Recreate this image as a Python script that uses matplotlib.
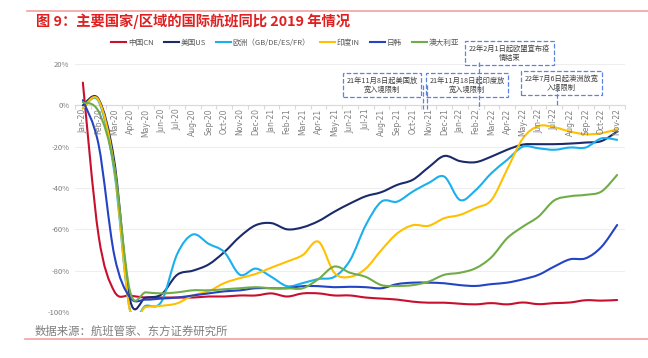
# international flights vs 2019, by country/region

import numpy as np
import matplotlib.pyplot as plt
from matplotlib.lines import Line2D
from matplotlib.path import Path
from matplotlib.patches import PathPatch

plt.rcParams['font.family'] = ['Noto Sans CJK SC', 'DejaVu Sans']

months = ['Jan-20', 'Feb-20', 'Mar-20', 'Apr-20', 'May-20', 'Jun-20', 'Jul-20', 'Aug-20',
          'Sep-20', 'Oct-20', 'Nov-20', 'Dec-20', 'Jan-21', 'Feb-21', 'Mar-21', 'Apr-21',
          'May-21', 'Jun-21', 'Jul-21', 'Aug-21', 'Sep-21', 'Oct-21', 'Nov-21', 'Dec-21',
          'Jan-22', 'Feb-22', 'Mar-22', 'Apr-22', 'May-22', 'Jun-22', 'Jul-22', 'Aug-22',
          'Sep-22', 'Oct-22', 'Nov-22']

# values in % vs 2019
china = [11, -63, -90, -92, -93, -93, -93, -93, -92.5, -92.5, -92, -92, -91, -92.5, -91, -91,
         -92, -92, -93, -93.5, -94, -95, -95.5, -95.5, -96, -96.3, -95.7, -96.3, -95.4, -96.2,
         -95.7, -95.4, -94.3, -94.5, -94.2]
us = [0, 3, -27, -94, -93, -91.5, -82, -80, -77, -71, -63.5, -58, -57, -60, -59, -56,
      -51.5, -47.5, -44, -42, -38.5, -36, -30, -24.5, -27, -27.5, -24.8, -21.5, -19, -18.8,
      -18.8, -18.5, -18, -17.3, -12.7]
europe = [-1.5, 2, -32, -99, -97, -95, -72, -62.5, -67, -71, -82, -79, -83, -87.5, -86, -84,
          -83, -75, -58, -46.6, -46.6, -41.7, -37.6, -34.5, -45.8, -41, -32.8, -26.4, -20,
          -20.8, -21.5, -20.4, -20.4, -16, -16.7]
india = [-1.3, 2.5, -30, -99.5, -97.6, -97, -95.8, -92, -90, -86, -83.6, -81.6, -78.5, -75.6,
         -72.4, -66, -81, -83, -79, -70, -62, -58, -58.3, -54.6, -53, -49.7, -45.8, -31, -16,
         -10, -10.6, -12.7, -14, -13.5, -11.5]
japan_korea = [2.5, -19, -72.5, -93, -94, -93.5, -93, -92, -91, -90, -89.5, -88.5, -88.5,
               -88.5, -87.5, -87.5, -88, -87.8, -88, -88.5, -86.5, -85.8, -85.8, -86.1, -87,
               -87.4, -86.5, -85.8, -84.2, -82, -78, -74.5, -74, -68.5, -57.9]
australia = [1.5, -3, -30, -90, -90.5, -91, -90.5, -89.5, -89.5, -89, -88.5, -88, -88.5,
             -88.5, -88.5, -84, -78, -81, -83, -87, -87.4, -87, -85.3, -82, -81, -78.8, -73.5,
             -64.3, -58.7, -53.8, -46, -44, -43.3, -41.7, -33.7]

names = ['中国CN', '美国US', '欧洲（GB/DE/ES/FR）', '印度IN', '日韩', '澳大利亚']
colors = ['#C8102E', '#1B2A6B', '#1AB0EE', '#FFC000', '#2344C4', '#70AD47']
series = [china, us, europe, india, japan_korea, australia]


def smooth_path(xs, ys):
    # excel-style smoothed line: bezier segments through the points
    p = np.column_stack([xs, ys]).astype(float)
    verts = [p[0]]
    codes = [Path.MOVETO]
    n = len(p)
    for i in range(n - 1):
        p0 = p[max(i - 1, 0)]
        p3 = p[min(i + 2, n - 1)]
        c1 = p[i] + (p[i + 1] - p0) / 6
        c2 = p[i + 1] - (p3 - p[i]) / 6
        verts += [c1, c2, p[i + 1]]
        codes += [Path.CURVE4] * 3
    return Path(verts, codes)


fig = plt.figure(figsize=(6.48, 3.58), dpi=100)
ax = fig.add_axes([75 / 648, 1 - 312 / 358, 550 / 648, 248 / 358])

x = np.arange(len(months))
for vals, c in zip(series, colors):
    ax.add_patch(PathPatch(smooth_path(x, vals), fc='none', ec=c, lw=1.5,
                           joinstyle='round', capstyle='round', zorder=3))

ax.set_xlim(-0.5, len(months) - 0.5)
ax.set_ylim(-100, 20)
ax.set_yticks(range(-100, 21, 20))
ax.set_yticklabels([f'{v}%' for v in range(-100, 21, 20)], fontsize=5.5, color='#7F7F7F')
ax.yaxis.grid(True, color='#EEEEEE', lw=0.8)
ax.set_axisbelow(True)
ax.tick_params(axis='y', length=0, pad=4)

# x axis sits at 0%
for s in ['top', 'right', 'left']:
    ax.spines[s].set_visible(False)
ax.spines['bottom'].set_position(('data', 0))
ax.spines['bottom'].set_color('#D9D9D9')
ax.set_xticks(np.arange(-0.5, len(months), 1))
ax.set_xticklabels([])
ax.tick_params(axis='x', length=3, color='#D9D9D9')
for i, m in enumerate(months):
    ax.text(i, -1.5, m, rotation=90, ha='center', va='top', fontsize=5.5,
            color='#7F7F7F', family='DejaVu Sans', zorder=4)

# annotation boxes
box_kw = dict(boxstyle='square,pad=0.5', fc='white', ec='#5B84E0', ls='--', lw=0.9)
line_kw = dict(color='#5B84E0', ls='--', lw=0.9, zorder=6, clip_on=False)
ax.plot([21.65, 21.65], [9.7, -2], **line_kw)
ax.plot([21.92, 21.92], [9.7, -2], **line_kw)
ax.plot([25.2, 25.2], [21, -2], **line_kw)
ax.plot([30.2, 30.2], [9, -0.5], **line_kw)
notes = [(19.05, 9.7, '21年11月8日起美国放\n宽入境限制'),
         (24.45, 9.7, '21年11月18日起印度放\n宽入境限制'),
         (27.15, 25.2, '22年2月1日起欧盟宣布疫\n情结束'),
         (30.45, 10.8, '22年7月6日起澳洲放宽\n入境限制')]
for xi, yi, t in notes:
    ax.text(xi, yi, t, ha='center', va='center', fontsize=5.2, color='#404040',
            linespacing=1.2, bbox=box_kw, zorder=5, clip_on=False)

handles = [Line2D([], [], color=c, lw=1.5) for c in colors]
fig.legend(handles, names, loc='center', bbox_to_anchor=(0.44, 1 - 43 / 358), ncol=6,
           frameon=False, fontsize=5.5, handlelength=2.0, handletextpad=0.2,
           columnspacing=1.3, labelcolor='#595959')

# title, source and the pink rules
fig.text(36 / 648, 1 - 21 / 358, '图 9：主要国家/区域的国际航班同比 2019 年情况', fontsize=10.3,
         fontweight='bold', color='#E02020', va='center', ha='left')
fig.text(35 / 648, 1 - 331 / 358, '数据来源：航班管家、东方证券研究所', fontsize=8.2,
         color='#7F7F7F', va='center', ha='left')
fig.add_artist(Line2D([27 / 648, 1], [1 - 11 / 358] * 2, color='#F2A0A0', lw=1.2))
fig.add_artist(Line2D([25 / 648, 1], [1 - 339 / 358] * 2, color='#F2A0A0', lw=1.2))

fig.savefig('out.png', dpi=100)
